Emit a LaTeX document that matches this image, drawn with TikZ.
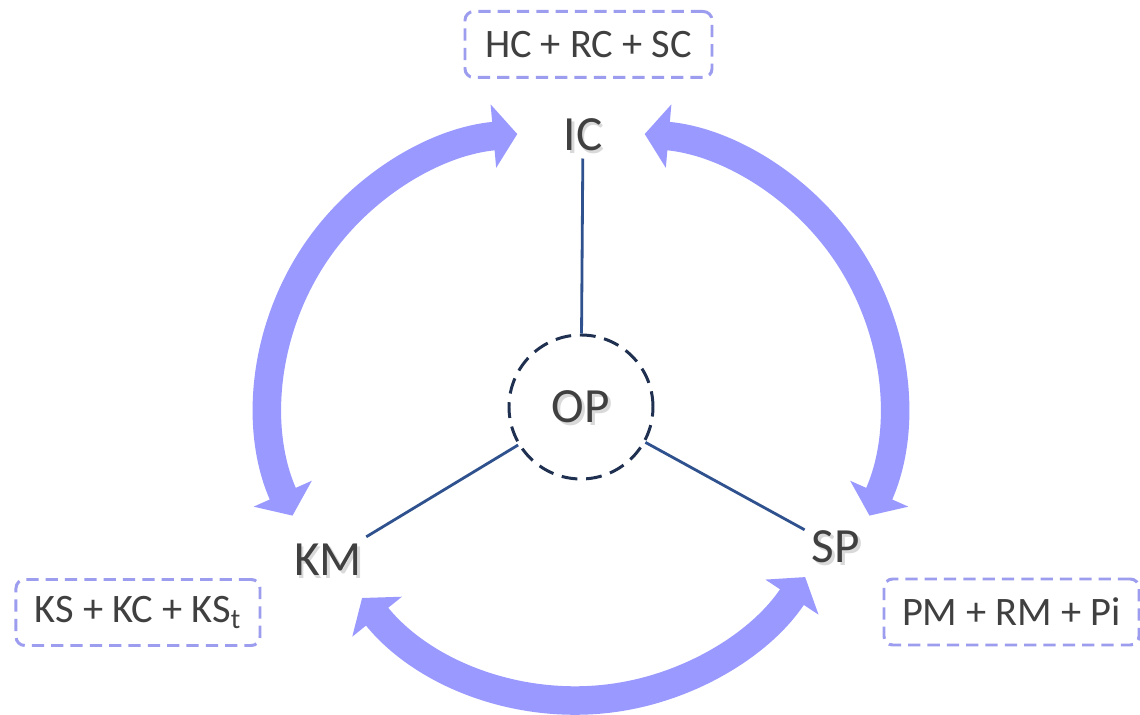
\documentclass[tikz,border=0pt]{standalone}
\usepackage{fontspec}
\setmainfont{Carlito}
\usetikzlibrary{arrows.meta,positioning}
\definecolor{flowblue}{RGB}{153,153,255}
\definecolor{boxline}{RGB}{157,157,240}
\definecolor{linkblue}{RGB}{47,82,143}
\definecolor{ringblue}{RGB}{31,48,80}
\definecolor{labelgray}{RGB}{64,64,64}

% label with a soft grey shadow behind it
\newcommand{\shadowtext}[1]{\makebox[0pt][l]{\kern0.05em\raisebox{-0.05em}[0pt][0pt]{\color{black!15}#1}}#1}

\begin{document}
\begin{tikzpicture}[
    part/.style={font=\fontsize{28}{32}\selectfont, text=labelgray, inner sep=4pt},
    core/.style={circle, draw=ringblue, line width=1.7pt, dash pattern=on 9pt off 5pt,
                 minimum size=2.88cm, font=\fontsize{28}{32}\selectfont, text=labelgray},
    formula/.style={rectangle, draw=boxline, line width=1.7pt, dash pattern=on 7pt off 4pt,
                    rounded corners=5pt, minimum height=1.32cm, align=center,
                    font=\fontsize{23}{27}\selectfont, text=labelgray},
    link/.style={draw=linkblue, line width=1.6pt},
    flow/.style={draw=flowblue, line width=0.57cm,
                 {Triangle[length=0.48cm,width=1.25cm]}-{Triangle[length=0.48cm,width=1.25cm]}}
]
    \useasboundingbox[fill=white] (-11.62,-6.16) rectangle (11.18,8.14);

    % Center
    \node[core] (OP) at (0,0) {\shadowtext{OP}};

    % Three parts
    \node[part] (IC) at (0.04,5.44) {\shadowtext{IC}};
    \node[part] (KM) at (-5.06,-3.06) {\shadowtext{KM}};
    \node[part] (SP) at (5.10,-2.80) {\shadowtext{SP}};

    % Components
    \node[formula, minimum width=4.94cm] (icparts) at (0.15,7.25) {HC + RC + SC};
    \node[formula, minimum width=4.88cm] (kmparts) at (-8.86,-4.11) {KS + KC + KS\textsubscript{t}};
    \node[formula, minimum width=5.1cm] (spparts) at (8.61,-4.10) {PM + RM + Pi};

    % Links
    \draw[link] (OP) -- (IC);
    \draw[link] (OP) -- (KM);
    \draw[link] (OP) -- (SP);

    % Arc ends
    \coordinate (ic-west) at ([shift={(-0.8,0.04)}]95:5.44);
    \coordinate (km-north) at ([shift={(-0.8,0.04)}]204:5.44);
    \coordinate (ic-east) at ([shift={(0.8,0.04)}]85:5.44);
    \coordinate (sp-north) at ([shift={(0.8,0.04)}]-24:5.44);
    \coordinate (km-south) at ([shift={(-0.1,-0.38)}]218.8:5.49);
    \coordinate (sp-south) at ([shift={(-0.1,-0.38)}]326.6:5.49);

    % Arrows
    \draw[flow] (km-north) arc[start angle=204, end angle=95, radius=5.44];
    \draw[flow] (sp-north) arc[start angle=-24, end angle=85, radius=5.44];
    \draw[flow] (km-south) arc[start angle=218.8, end angle=326.6, radius=5.49];
\end{tikzpicture}
\end{document}
